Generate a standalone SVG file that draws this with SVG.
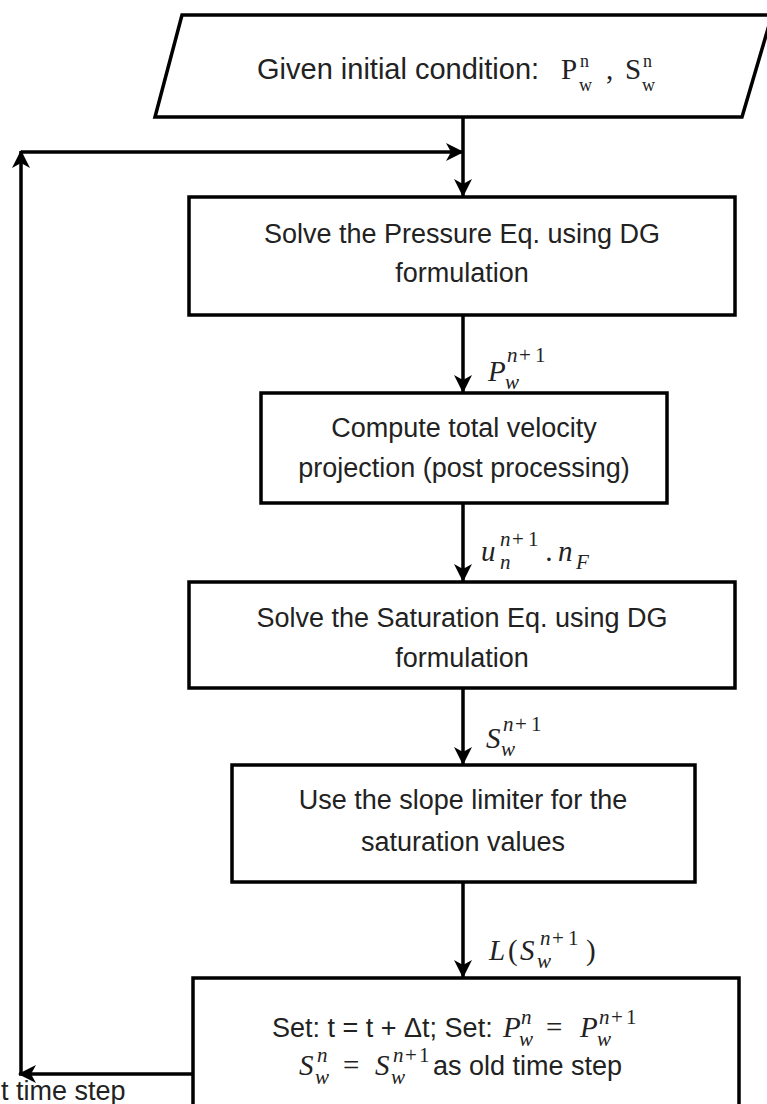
<svg xmlns="http://www.w3.org/2000/svg" width="767" height="1104" viewBox="0 0 767 1104">
<defs>
<marker id="ah" viewBox="0 0 18 18" refX="17" refY="9" markerWidth="18" markerHeight="18" orient="auto" markerUnits="userSpaceOnUse"><path d="M0,0 L18,9 L0,18 L5,9 z" fill="#000"/></marker>
<style>
.box{fill:#fff;stroke:#000;stroke-width:3.5}
.t{font-family:"Liberation Sans",Arial,sans-serif;font-size:27px;fill:#222;text-anchor:middle}
.tl{font-family:"Liberation Sans",Arial,sans-serif;font-size:27px;fill:#222}
.m{font-family:"Liberation Serif","Times New Roman",serif;font-style:italic;font-size:29px;fill:#222}
.ms{font-family:"Liberation Serif","Times New Roman",serif;font-style:italic;font-size:21px;fill:#222}
.u{font-family:"Liberation Serif","Times New Roman",serif;font-size:29px;fill:#222}
.us{font-family:"Liberation Serif","Times New Roman",serif;font-size:21px;fill:#222}
.ui{font-family:"Liberation Serif","Times New Roman",serif;font-size:18px;fill:#222}
.c{fill:none;stroke:#000;stroke-width:3.5;marker-end:url(#ah)}
</style>
</defs>
<rect width="767" height="1104" fill="#fff"/>
<g id="connectors">
<path class="c" d="M463,117 L463,196"/>
<path class="c" d="M463,315 L463,392"/>
<path class="c" d="M463,503 L463,581"/>
<path class="c" d="M463,688 L463,764"/>
<path class="c" d="M463,882 L463,977"/>
<path class="c" d="M193,1074 L19,1074"/>
<path class="c" d="M21,1074 L21,151"/>
<path class="c" d="M21,152 L463,152"/>
<g id="label-p">
<text class="m" x="488" y="381">P</text><text class="ms" x="507" y="362">n</text><text class="us" x="519" y="362">+</text><text class="us" x="535" y="362">1</text><text class="ms" x="505" y="389">w</text>
</g>
<g id="label-u">
<text class="m" x="481" y="561">u</text><text class="ms" x="500" y="546">n</text><text class="us" x="512" y="546">+</text><text class="us" x="528" y="546">1</text><text class="ms" x="500" y="569">n</text><text class="m" x="546" y="561">.</text><text class="m" x="558" y="561">n</text><text class="ms" x="576" y="569">F</text>
</g>
<g id="label-s">
<text class="m" x="486" y="748">S</text><text class="ms" x="503" y="731">n</text><text class="us" x="515" y="731">+</text><text class="us" x="531" y="731">1</text><text class="ms" x="501" y="756">w</text>
</g>
<g id="label-l">
<text class="m" x="489" y="960">L</text><text class="u" x="508" y="960">(</text><text class="m" x="520" y="960">S</text><text class="ms" x="540" y="945">n</text><text class="us" x="552" y="945">+</text><text class="us" x="568" y="945">1</text><text class="ms" x="537" y="968">w</text><text class="u" x="586" y="960">)</text>
</g>
<text class="tl" x="1" y="1100">t time step</text>
</g>
<g id="n0">
<path class="box" d="M182,15 L772,15 L742,117 L155,117 Z"/>
<text class="tl" x="257" y="79" style="font-size:29px">Given initial condition: </text>
<text class="u" x="561" y="79">P</text><text class="ui" x="580" y="67">n</text><text class="ui" x="579" y="91">w</text>
<text class="u" x="606" y="79">,</text>
<text class="u" x="625" y="79">S</text><text class="ui" x="643" y="67">n</text><text class="ui" x="642" y="91">w</text>
</g>
<g id="n1">
<rect class="box" x="189" y="197" width="546" height="118"/>
<text class="t" x="462" y="243">Solve the Pressure Eq. using DG</text>
<text class="t" x="462" y="282">formulation</text>
</g>
<g id="n2">
<rect class="box" x="261" y="393" width="406" height="110"/>
<text class="t" x="464" y="437">Compute total velocity</text>
<text class="t" x="464" y="477">projection (post processing)</text>
</g>
<g id="n3">
<rect class="box" x="189" y="582" width="546" height="106"/>
<text class="t" x="462" y="627">Solve the Saturation Eq. using DG</text>
<text class="t" x="462" y="667">formulation</text>
</g>
<g id="n4">
<rect class="box" x="232" y="765" width="463" height="117"/>
<text class="t" x="463" y="809">Use the slope limiter for the</text>
<text class="t" x="463" y="851">saturation values</text>
</g>
<g id="n5">
<rect class="box" x="193" y="978" width="546" height="140"/>
<text class="tl" x="272" y="1037">Set: t = t + Δt; Set: </text>
<text class="m" x="503" y="1037">P</text><text class="ms" x="521" y="1024">n</text><text class="ms" x="519" y="1046">w</text>
<text class="u" x="546" y="1037">=</text>
<text class="m" x="580" y="1037">P</text><text class="ms" x="599" y="1024">n</text><text class="us" x="611" y="1024">+</text><text class="us" x="626" y="1024">1</text><text class="ms" x="597" y="1046">w</text>
<text class="m" x="299" y="1075">S</text><text class="ms" x="317" y="1062">n</text><text class="ms" x="315" y="1084">w</text>
<text class="u" x="343" y="1075">=</text>
<text class="m" x="375" y="1075">S</text><text class="ms" x="393" y="1062">n</text><text class="us" x="405" y="1062">+</text><text class="us" x="419" y="1062">1</text><text class="ms" x="391" y="1084">w</text>
<text class="tl" x="433" y="1075">as old time step</text>
</g>
</svg>
